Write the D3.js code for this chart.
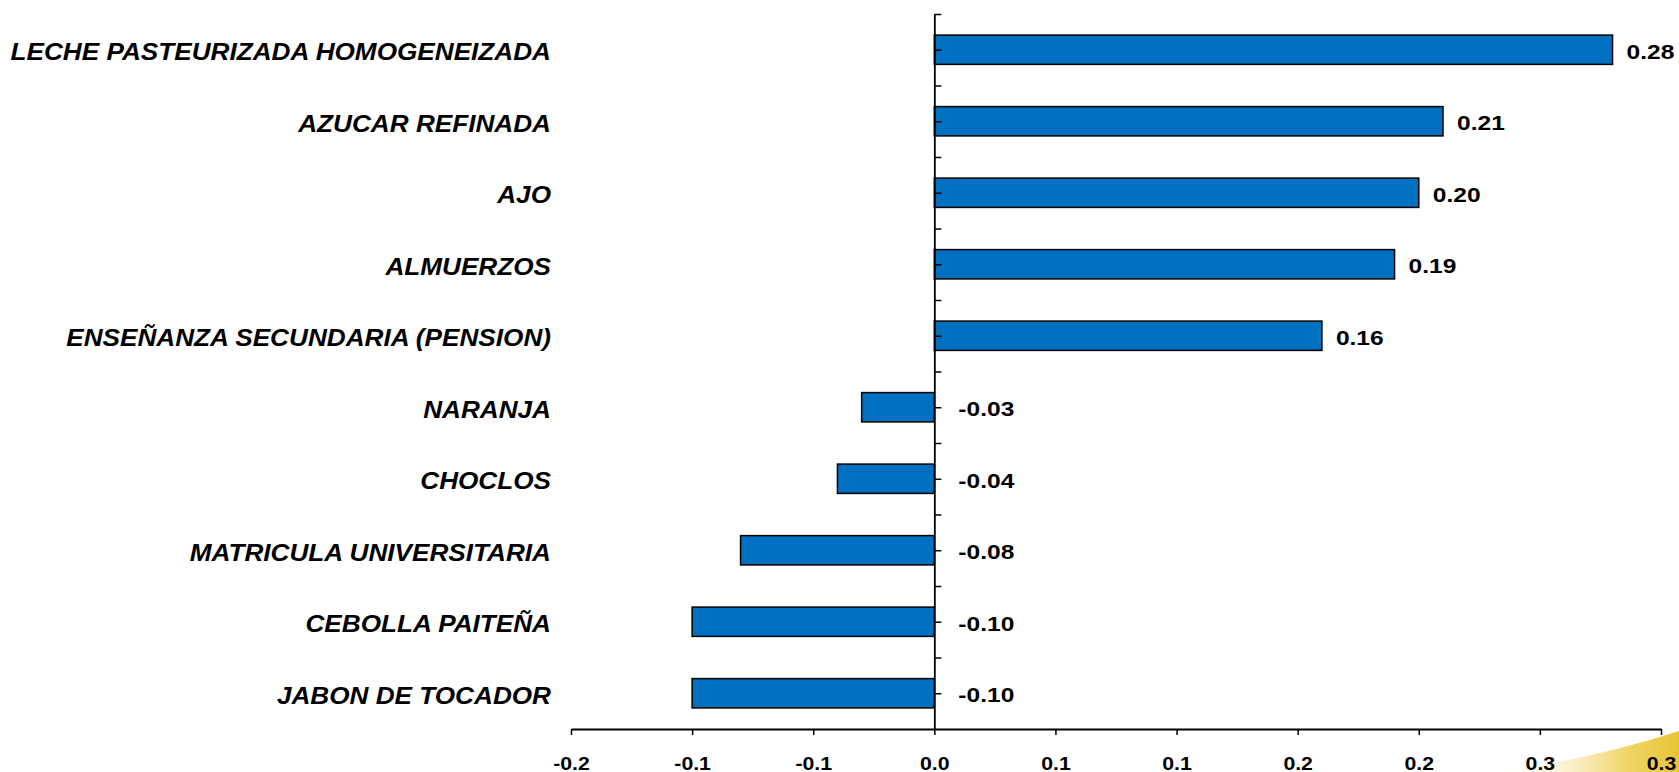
<!DOCTYPE html>
<html>
<head>
<meta charset="utf-8">
<script src="https://cdn.jsdelivr.net/npm/d3@7"></script>
<style>
  html, body { margin: 0; padding: 0; background: #ffffff; }
  svg { display: block; }
</style>
</head>
<body>
<svg id="chart" width="1679" height="772"></svg>
<script>
const categories = [
  "LECHE PASTEURIZADA HOMOGENEIZADA",
  "AZUCAR REFINADA",
  "AJO",
  "ALMUERZOS",
  "ENSEÑANZA SECUNDARIA (PENSION)",
  "NARANJA",
  "CHOCLOS",
  "MATRICULA UNIVERSITARIA",
  "CEBOLLA PAITEÑA",
  "JABON DE TOCADOR"
];
const values = [0.28, 0.21, 0.20, 0.19, 0.16, -0.03, -0.04, -0.08, -0.10, -0.10];
const tickValues = [-0.15, -0.10, -0.05, 0, 0.05, 0.10, 0.15, 0.20, 0.25, 0.30];
const tickLabels = ["-0.2", "-0.1", "-0.1", "0.0", "0.1", "0.1", "0.2", "0.2", "0.3", "0.3"];

const svg = d3.select("#chart");
const plot = { left: 571, right: 1661, top: 14, bottom: 729 };

// background swoosh
const defs = svg.append("defs");
const grad = defs.append("linearGradient").attr("id", "sw").attr("x1", "0").attr("x2", "1").attr("y1", "0").attr("y2", "0");
grad.append("stop").attr("offset", "0").attr("stop-color", "#fbf3cf").attr("stop-opacity", 0);
grad.append("stop").attr("offset", "0.35").attr("stop-color", "#f9eec0").attr("stop-opacity", 0.7);
grad.append("stop").attr("offset", "0.7").attr("stop-color", "#f0d66a");
grad.append("stop").attr("offset", "1").attr("stop-color", "#e8c434");
svg.append("path")
  .attr("d", "M1500,772 Q1600,757 1679,731 L1679,772 Z")
  .attr("fill", "url(#sw)");

const x = d3.scaleLinear().domain([-0.15, 0.30]).range([plot.left, plot.right]);
const y = d3.scaleBand().domain(categories).range([plot.top, plot.bottom])
  .paddingInner(0.59).paddingOuter(0.295);
const yTicks = d3.scaleLinear().domain([0, categories.length * 2]).range([plot.top, plot.bottom]);

const font = "'Liberation Sans', Arial, Helvetica, sans-serif";

// bars
svg.append("g").selectAll("rect").data(values).join("rect")
  .attr("x", d => x(Math.min(0, d)))
  .attr("y", (d, i) => y(categories[i]))
  .attr("width", d => Math.abs(x(d) - x(0)))
  .attr("height", y.bandwidth())
  .attr("fill", "#0070c0")
  .attr("stroke", "#000")
  .attr("stroke-width", 1.5);

// y axis (at zero)
const yAxis = svg.append("g")
  .attr("transform", `translate(${x(0)},0)`)
  .call(d3.axisRight(yTicks).tickValues(d3.range(0, categories.length * 2)).tickSize(7).tickSizeOuter(0).tickFormat(""));
yAxis.select(".domain").attr("stroke", "#000").attr("stroke-width", 1.8);
yAxis.selectAll(".tick line").attr("stroke", "#000").attr("stroke-width", 1.5);

// x axis
const xAxis = svg.append("g")
  .attr("transform", `translate(0,${plot.bottom})`)
  .call(d3.axisBottom(x).tickValues(tickValues).tickSize(6).tickSizeOuter(0)
    .tickFormat((d, i) => tickLabels[i]));
xAxis.select(".domain").attr("stroke", "#000").attr("stroke-width", 1.8);
xAxis.selectAll(".tick line").attr("stroke", "#000").attr("stroke-width", 1.5);
xAxis.selectAll(".tick text").remove();
xAxis.selectAll(".tick").append("text")
  .attr("transform", "translate(0,40.5) scale(1.12,1)")
  .attr("text-anchor", "middle")
  .attr("fill", "#000")
  .style("font-family", font)
  .style("font-weight", "bold")
  .style("font-size", "19px")
  .text((d, i) => tickLabels[i]);

// category labels
svg.append("g").selectAll("text").data(categories).join("text")
  .attr("transform", d => `translate(551,${y(d) + y.bandwidth() / 2 + 10.5}) scale(1.09,1)`)
  .attr("text-anchor", "end")
  .attr("fill", "#000")
  .style("font-family", font)
  .style("font-weight", "bold")
  .style("font-style", "italic")
  .style("font-size", "24px")
  .text(d => d);

// value labels
const fmt = d3.formatLocale({ decimal: ".", thousands: ",", grouping: [3], currency: ["", ""], minus: "-" }).format(".2f");
svg.append("g").selectAll("text").data(values).join("text")
  .attr("transform", (d, i) => {
    const lx = d >= 0 ? x(d) + 14 : x(0) + 24;
    return `translate(${lx},${y(categories[i]) + y.bandwidth() / 2 + 9}) scale(1.17,1)`;
  })
  .attr("text-anchor", "start")
  .attr("fill", "#000")
  .style("font-family", font)
  .style("font-weight", "bold")
  .style("font-size", "21px")
  .text(d => fmt(d));
</script>
</body>
</html>
